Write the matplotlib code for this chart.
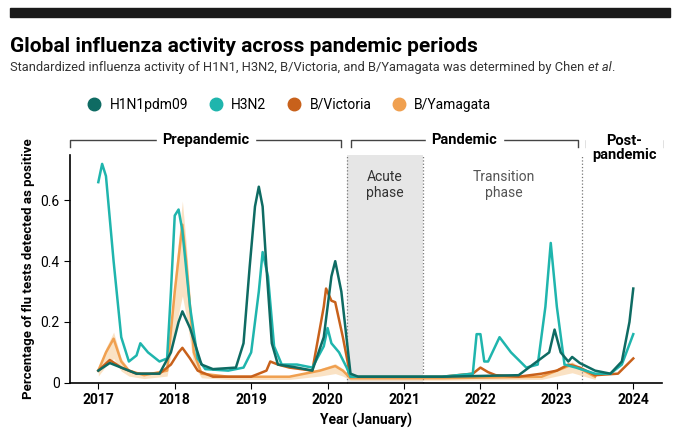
import matplotlib.pyplot as plt
import numpy as np
from matplotlib.lines import Line2D

# (decimal year, share positive)
h1n1_t = [2017.0, 2017.15, 2017.3, 2017.5, 2017.8, 2017.95, 2018.05, 2018.1, 2018.2, 2018.35, 2018.5, 2018.8, 2018.9, 2018.98, 2019.05, 2019.1, 2019.15, 2019.2, 2019.27, 2019.35, 2019.6, 2019.8, 2019.95, 2020.05, 2020.1, 2020.18, 2020.3, 2020.4, 2021.5, 2022.5, 2022.9, 2022.97, 2023.05, 2023.15, 2023.2, 2023.3, 2023.5, 2023.7, 2023.85, 2023.95, 2024.0]
h1n1_v = [0.04, 0.065, 0.05, 0.03, 0.03, 0.10, 0.20, 0.235, 0.18, 0.06, 0.045, 0.05, 0.13, 0.38, 0.58, 0.645, 0.58, 0.38, 0.13, 0.06, 0.05, 0.04, 0.15, 0.35, 0.40, 0.30, 0.03, 0.02, 0.02, 0.025, 0.10, 0.175, 0.10, 0.07, 0.085, 0.065, 0.04, 0.03, 0.07, 0.20, 0.31]

h3n2_t = [2017.0, 2017.05, 2017.1, 2017.2, 2017.3, 2017.4, 2017.5, 2017.55, 2017.65, 2017.8, 2017.9, 2017.95, 2018.0, 2018.05, 2018.1, 2018.2, 2018.3, 2018.4, 2018.7, 2018.9, 2019.0, 2019.1, 2019.15, 2019.22, 2019.3, 2019.4, 2019.6, 2019.8, 2019.95, 2020.0, 2020.05, 2020.15, 2020.25, 2020.3, 2021.5, 2021.9, 2021.95, 2022.0, 2022.05, 2022.1, 2022.25, 2022.4, 2022.6, 2022.75, 2022.85, 2022.92, 2023.0, 2023.1, 2023.25, 2023.5, 2023.7, 2023.85, 2024.0]
h3n2_v = [0.66, 0.72, 0.68, 0.40, 0.15, 0.07, 0.09, 0.13, 0.10, 0.07, 0.08, 0.30, 0.55, 0.57, 0.50, 0.25, 0.08, 0.045, 0.04, 0.05, 0.10, 0.30, 0.43, 0.35, 0.12, 0.06, 0.06, 0.05, 0.12, 0.18, 0.13, 0.10, 0.05, 0.02, 0.02, 0.03, 0.16, 0.16, 0.07, 0.07, 0.15, 0.10, 0.05, 0.06, 0.25, 0.46, 0.25, 0.06, 0.05, 0.03, 0.03, 0.06, 0.16]

bvic_t = [2017.0, 2017.15, 2017.3, 2017.5, 2017.8, 2017.95, 2018.05, 2018.1, 2018.2, 2018.3, 2018.5, 2019.0, 2019.2, 2019.25, 2019.35, 2019.5, 2019.8, 2019.95, 2019.98, 2020.05, 2020.1, 2020.2, 2020.3, 2021.5, 2021.9, 2022.0, 2022.1, 2022.2, 2022.5, 2022.8, 2023.0, 2023.15, 2023.3, 2023.5, 2023.8, 2024.0]
bvic_v = [0.04, 0.075, 0.05, 0.03, 0.03, 0.06, 0.10, 0.115, 0.08, 0.04, 0.02, 0.02, 0.04, 0.07, 0.06, 0.05, 0.04, 0.25, 0.31, 0.27, 0.265, 0.15, 0.02, 0.02, 0.03, 0.05, 0.035, 0.025, 0.02, 0.03, 0.04, 0.06, 0.05, 0.025, 0.03, 0.08]

byam_t = [2017.0, 2017.1, 2017.2, 2017.3, 2017.4, 2017.6, 2017.9, 2018.0, 2018.1, 2018.15, 2018.25, 2018.35, 2018.7, 2019.5, 2019.9, 2020.1, 2020.2, 2020.3, 2021.5, 2022.8, 2023.1, 2023.2, 2023.35, 2023.5]
byam_v = [0.04, 0.10, 0.145, 0.07, 0.04, 0.025, 0.04, 0.30, 0.52, 0.40, 0.10, 0.03, 0.02, 0.02, 0.04, 0.055, 0.04, 0.015, 0.015, 0.02, 0.05, 0.06, 0.04, 0.02]

c_h1 = '#0e6b63'
c_h3 = '#1fb5ad'
c_bv = '#c8611b'
c_by = '#f0a050'

plt.rcParams['font.family'] = ['Roboto', 'DejaVu Sans']
fig = plt.figure(figsize=(6.8, 4.41), dpi=100)
ax = fig.add_axes([0.103, 0.132, 0.871, 0.517])

ax.axvspan(2020.25, 2021.25, color='#e6e6e6', lw=0)
for xv in [2020.25, 2021.25, 2023.33]:
    ax.axvline(xv, color='#777777', ls=':', lw=0.9, clip_on=False)

byam = np.array(byam_v)
ax.fill_between(byam_t, byam * 0.55, byam * 1.15, color='#f8cf9e', alpha=0.6, lw=0)
ax.plot(byam_t, byam_v, color=c_by, lw=1.8)
ax.plot(bvic_t, bvic_v, color=c_bv, lw=1.8)
ax.plot(h3n2_t, h3n2_v, color=c_h3, lw=1.8)
ax.plot(h1n1_t, h1n1_v, color=c_h1, lw=1.8)

ax.set_xlim(2016.63, 2024.38)
ax.set_ylim(0, 0.75)
ax.set_yticks([0, 0.2, 0.4, 0.6])
ax.set_yticklabels(['0', '0.2', '0.4', '0.6'])
ax.set_xticks(range(2017, 2025))
ax.tick_params(labelsize=10, length=4)
for lab in ax.get_xticklabels():
    lab.set_fontweight('bold')
for s in ['top', 'right']:
    ax.spines[s].set_visible(False)
ax.spines['left'].set_linewidth(1.2)
ax.spines['bottom'].set_linewidth(1.2)
ax.set_xlabel('Year (January)', fontsize=10, fontweight='bold')
ax.set_ylabel('Percentage of flu tests detected as positive', fontsize=9.5, fontweight='bold')

# phase labels
ax.text(2020.75, 0.70, 'Acute\nphase', ha='center', va='top', fontsize=10, color='#333333')
ax.text(2022.3, 0.70, 'Transition\nphase', ha='center', va='top', fontsize=10, color='#555555')

# brackets
def bracket(x0, x1, label, y=0.80):
    ax.plot([x0, x0, x1, x1], [y - 0.025, y, y, y - 0.025], color='#444444', lw=1, clip_on=False)
    if label:
        ax.text((x0 + x1) / 2, y, label, ha='center', va='center', fontsize=10.5,
                fontweight='bold', backgroundcolor='white', clip_on=False)

bracket(2016.63, 2020.18, 'Prepandemic')
bracket(2020.3, 2023.28, 'Pandemic')
bracket(2023.38, 2024.38, '')
ax.text(2023.88, 0.82, 'Post-\npandemic', ha='center', va='top', fontsize=10.5, fontweight='bold',
        backgroundcolor='white', clip_on=False, linespacing=1.0)

# legend
handles = [Line2D([], [], color=c, marker='o', ls='', markersize=9) for c in [c_h1, c_h3, c_bv, c_by]]
fig.legend(handles, ['H1N1pdm09', 'H3N2', 'B/Victoria', 'B/Yamagata'], loc='center left',
           bbox_to_anchor=(0.1, 0.762), ncol=4, frameon=False, fontsize=10, handletextpad=0.1,
           columnspacing=1.0)

fig.add_artist(plt.Rectangle((0.015, 0.962), 0.97, 0.02, color='#1a1a1a', transform=fig.transFigure))
fig.text(0.015, 0.895, 'Global influenza activity across pandemic periods', fontsize=15, fontweight='bold', va='center')
sub = fig.text(0.015, 0.847, 'Standardized influenza activity of H1N1, H3N2, B/Victoria, and B/Yamagata was determined by Chen ',
               fontsize=9.3, va='center', color='#333333')
fig.canvas.draw()
bb = sub.get_window_extent().transformed(fig.transFigure.inverted())
fig.text(bb.x1, 0.847, 'et al', fontsize=9.3, va='center', color='#333333', style='italic')
fig.text(bb.x1 + 0.034, 0.847, '.', fontsize=9.3, va='center', color='#333333')

fig.savefig('out.png', dpi=100)
